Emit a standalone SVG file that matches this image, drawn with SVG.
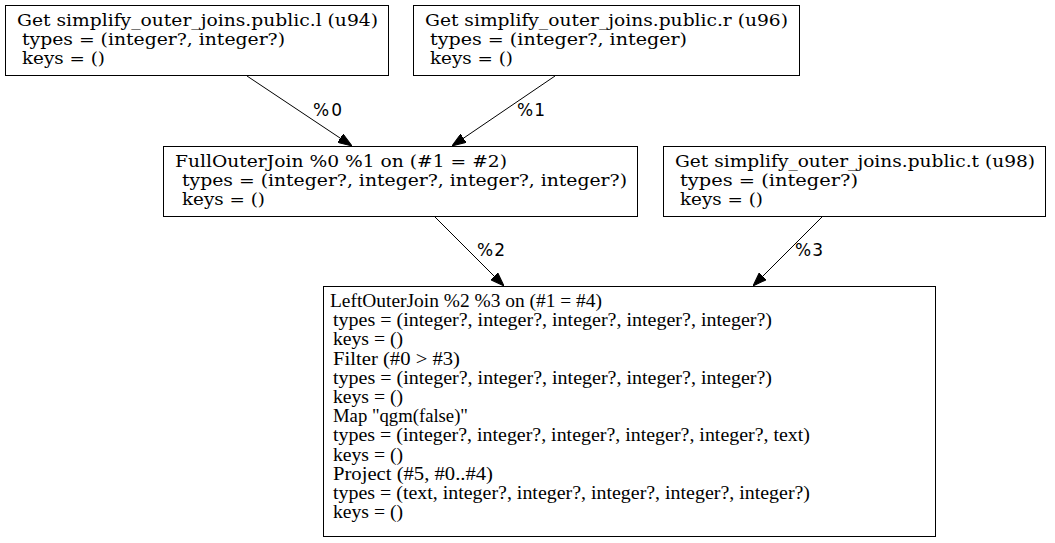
<svg xmlns="http://www.w3.org/2000/svg" width="1055" height="543" viewBox="0 0 1055 543">
<style>
.box{fill:#fff;stroke:#000;stroke-width:1}
.t1{font-family:"DejaVu Serif",serif;font-size:17px;fill:#000}
.t2{font-family:"Liberation Serif","Times New Roman",serif;font-size:18px;fill:#000}
.el{font-family:"DejaVu Sans",sans-serif;font-size:17px;fill:#000}
.edge{stroke:#000;stroke-width:1;fill:none;marker-end:url(#arr)}
</style>
<defs>
<marker id="arr" markerUnits="userSpaceOnUse" markerWidth="14" markerHeight="10" refX="14" refY="5" orient="auto">
<path d="M0,0 L14,5 L0,10 z" fill="#000" stroke="#000" stroke-width="1"/>
</marker>
</defs>
<rect width="1055" height="543" fill="#fff"/>
<g id="connectors">
<line class="edge" x1="247" y1="76" x2="352" y2="146"/>
<line class="edge" x1="555" y1="76" x2="452" y2="146"/>
<line class="edge" x1="435" y1="217" x2="504" y2="286"/>
<line class="edge" x1="822" y1="217" x2="753" y2="286"/>
<text class="el" x="313" y="116" textLength="29">%0</text>
<text class="el" x="517" y="116" textLength="28">%1</text>
<text class="el" x="477" y="256" textLength="28">%2</text>
<text class="el" x="795" y="256" textLength="28">%3</text>
</g>
<g id="u94">
<rect class="box" x="5.5" y="5.5" width="383" height="70"/>
<text class="t1" x="17" y="26" textLength="361" lengthAdjust="spacingAndGlyphs">Get simplify_outer_joins.public.l (u94)</text>
<text class="t1" x="22" y="45" textLength="263" lengthAdjust="spacingAndGlyphs">types = (integer?, integer?)</text>
<text class="t1" x="22" y="64" textLength="83" lengthAdjust="spacingAndGlyphs">keys = ()</text>
</g>
<g id="u96">
<rect class="box" x="413.5" y="5.5" width="386" height="70"/>
<text class="t1" x="425" y="26" textLength="363" lengthAdjust="spacingAndGlyphs">Get simplify_outer_joins.public.r (u96)</text>
<text class="t1" x="430" y="45" textLength="257" lengthAdjust="spacingAndGlyphs">types = (integer?, integer)</text>
<text class="t1" x="430" y="64" textLength="83" lengthAdjust="spacingAndGlyphs">keys = ()</text>
</g>
<g id="fullouterjoin">
<rect class="box" x="163.5" y="146.5" width="474" height="70"/>
<text class="t1" x="175" y="167" textLength="332" lengthAdjust="spacingAndGlyphs">FullOuterJoin %0 %1 on (#1 = #2)</text>
<text class="t1" x="182" y="186" textLength="445" lengthAdjust="spacingAndGlyphs">types = (integer?, integer?, integer?, integer?)</text>
<text class="t1" x="182" y="205" textLength="83" lengthAdjust="spacingAndGlyphs">keys = ()</text>
</g>
<g id="u98">
<rect class="box" x="663.5" y="146.5" width="382" height="70"/>
<text class="t1" x="675" y="167" textLength="360" lengthAdjust="spacingAndGlyphs">Get simplify_outer_joins.public.t (u98)</text>
<text class="t1" x="680" y="186" textLength="178" lengthAdjust="spacingAndGlyphs">types = (integer?)</text>
<text class="t1" x="680" y="205" textLength="83" lengthAdjust="spacingAndGlyphs">keys = ()</text>
</g>
<g id="leftouterjoin">
<rect class="box" x="323.5" y="286.5" width="612" height="250"/>
<text class="t2" x="330" y="307" textLength="272" lengthAdjust="spacingAndGlyphs">LeftOuterJoin %2 %3 on (#1 = #4)</text>
<text class="t2" x="333" y="326.2" textLength="439" lengthAdjust="spacingAndGlyphs">types = (integer?, integer?, integer?, integer?, integer?)</text>
<text class="t2" x="333" y="345.4" textLength="70" lengthAdjust="spacingAndGlyphs">keys = ()</text>
<text class="t2" x="333" y="364.6" textLength="127" lengthAdjust="spacingAndGlyphs">Filter (#0 &gt; #3)</text>
<text class="t2" x="333" y="383.8" textLength="439" lengthAdjust="spacingAndGlyphs">types = (integer?, integer?, integer?, integer?, integer?)</text>
<text class="t2" x="333" y="403" textLength="70" lengthAdjust="spacingAndGlyphs">keys = ()</text>
<text class="t2" x="333" y="422.2" textLength="135" lengthAdjust="spacingAndGlyphs">Map "qgm(false)"</text>
<text class="t2" x="333" y="441.4" textLength="477" lengthAdjust="spacingAndGlyphs">types = (integer?, integer?, integer?, integer?, integer?, text)</text>
<text class="t2" x="333" y="460.6" textLength="70" lengthAdjust="spacingAndGlyphs">keys = ()</text>
<text class="t2" x="333" y="479.8" textLength="160" lengthAdjust="spacingAndGlyphs">Project (#5, #0..#4)</text>
<text class="t2" x="333" y="499" textLength="477" lengthAdjust="spacingAndGlyphs">types = (text, integer?, integer?, integer?, integer?, integer?)</text>
<text class="t2" x="333" y="518.2" textLength="70" lengthAdjust="spacingAndGlyphs">keys = ()</text>
</g>
</svg>
